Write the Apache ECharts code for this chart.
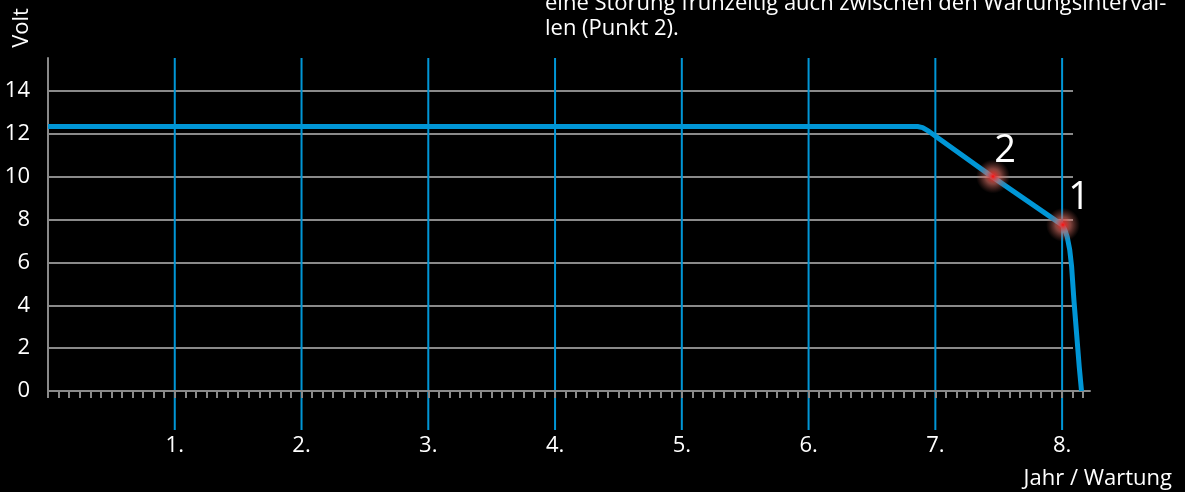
<!DOCTYPE html>
<html><head><meta charset="utf-8">
<script src="https://cdn.jsdelivr.net/npm/echarts@6/dist/echarts.min.js"></script>
<style>html,body{margin:0;padding:0;background:#000}#c{width:1185px;height:492px}</style>
</head><body><div id="c"></div>
<script>
// --- data ---
const years = [0, 6.86, 6.9, 6.95, 7.45, 8.0, 8.02, 8.04, 8.06, 8.075, 8.093, 8.114, 8.135, 8.153];
const volts = [12.35, 12.35, 12.3, 12.12, 10.0, 7.76, 7.55, 7.2, 6.6, 5.81, 4.25, 2.7, 1.14, 0];
const pointYears = [7.455, 8.007];
const pointVolts = [10.02, 7.76];
const pointLabels = ['2', '1'];
const yearTicks = [1, 2, 3, 4, 5, 6, 7, 8];
const voltTicks = [0, 2, 4, 6, 8, 10, 12, 14];
const monthTicks = [];
for (let m = 0; m <= 98; m++) monthTicks.push(m);
const textLine1 = 'eine Störung frühzeitig auch zwischen den Wartungsinterval-';
const textLine2 = 'len (Punkt 2).';
const yName = 'Volt';
const xName = 'Jahr / Wartung';

// --- styles ---
const BLUE = '#0096d6';
const GRAY = '#8a8a8a';
const FONT = 'Open Sans';
const labelOffsets = [[12, -25], [16, -27]];
const Y_MAX = 15.55;
const TICK_EXT = 39;

const chart = echarts.init(document.getElementById('c'));
const glow = {
  type: 'radial', x: 0.5, y: 0.5, r: 0.5,
  colorStops: [
    { offset: 0, color: 'rgba(255,10,10,1)' },
    { offset: 0.12, color: 'rgba(240,50,45,0.9)' },
    { offset: 0.45, color: 'rgba(215,110,100,0.6)' },
    { offset: 1, color: 'rgba(160,80,70,0)' }
  ]
};
chart.setOption({
  backgroundColor: '#000',
  textStyle: { fontFamily: FONT },
  animation: false,
  grid: [
    { left: 48, right: 95, top: 58, bottom: 101 },
    { left: 48, right: 112, top: 58, bottom: 101 }
  ],
  xAxis: [
    {
      gridIndex: 0, type: 'value', min: 0, max: 8.22, z: 0,
      axisLine: { show: false }, axisTick: { show: false }, splitLine: { show: false },
      axisLabel: { customValues: yearTicks, formatter: v => v + '.', margin: 44, color: '#fff', fontSize: 22, fontFamily: FONT }
    },
    {
      gridIndex: 0, type: 'value', min: 0, max: 98.64, position: 'bottom', z: 1,
      axisLine: { show: true, lineStyle: { color: GRAY, width: 2 } },
      axisTick: { show: true, customValues: monthTicks, length: 7, lineStyle: { color: GRAY, width: 2 } },
      axisLabel: { show: false },
      splitLine: { show: false }
    },
    { gridIndex: 1, type: 'value', min: 0, max: 8.22, show: false }
  ],
  yAxis: [
    {
      gridIndex: 0, type: 'value', min: 0, max: Y_MAX, interval: 2, z: 1,
      axisLine: { show: true, lineStyle: { color: GRAY, width: 2 } },
      axisTick: { show: false },
      axisLabel: { customValues: voltTicks, color: '#fff', fontSize: 22, margin: 18, fontFamily: FONT },
      splitLine: { show: false }
    },
    {
      gridIndex: 1, type: 'value', min: 0, max: Y_MAX, interval: 2, z: 0,
      axisLine: { show: false }, axisTick: { show: false }, axisLabel: { show: false },
      splitLine: { show: true, showMinLine: false, showMaxLine: false, lineStyle: { color: GRAY, width: 2 } }
    }
  ],
  series: [
    {
      type: 'custom', xAxisIndex: 0, yAxisIndex: 0, z: 1, clip: false, silent: true,
      data: yearTicks.map(v => [v]),
      encode: { x: 0 },
      renderItem: function (params, api) {
        const top = api.coord([api.value(0), Y_MAX]);
        const bot = api.coord([api.value(0), 0]);
        return {
          type: 'line',
          shape: { x1: top[0], y1: top[1], x2: bot[0], y2: bot[1] + TICK_EXT },
          style: { stroke: BLUE, lineWidth: 2 }
        };
      }
    },
    {
      type: 'line', xAxisIndex: 0, yAxisIndex: 0, z: 3,
      data: years.map((x, i) => [x, volts[i]]),
      showSymbol: false, symbol: 'none',
      lineStyle: { color: BLUE, width: 5, join: 'round' }
    },
    {
      type: 'scatter', xAxisIndex: 0, yAxisIndex: 0, z: 4,
      symbolSize: 34,
      itemStyle: { color: glow, opacity: 1 },
      data: pointYears.map((x, i) => ({
        value: [x, pointVolts[i]], name: pointLabels[i],
        label: { offset: labelOffsets[i] }
      })),
      label: { show: true, position: 'inside', formatter: p => p.name, color: '#ffffff', opacity: 1, fontSize: 38, fontFamily: FONT }
    }
  ],
  graphic: [
    { type: 'text', left: 545, top: -7, style: { text: textLine1, fill: '#fff', font: '22px "Open Sans"' } },
    { type: 'text', left: 545, top: 18, style: { text: textLine2, fill: '#fff', font: '22px "Open Sans"' } },
    { type: 'text', x: 22, y: 28, rotation: Math.PI / 2, style: { text: yName, fill: '#fff', font: '22px "Open Sans"', align: 'center', verticalAlign: 'middle' } },
    { type: 'text', x: 1172, y: 479, style: { text: xName, fill: '#fff', font: '22px "Open Sans"', align: 'right', verticalAlign: 'middle' } }
  ]
});
</script></body></html>
